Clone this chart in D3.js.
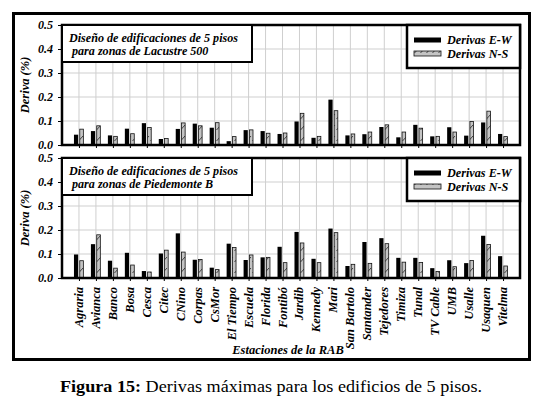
<!DOCTYPE html>
<html>
<head>
<meta charset="utf-8">
<script src="https://cdn.jsdelivr.net/npm/d3@7"></script>
</head>
<body style="margin:0;background:#fff">
<div id="chart"></div>
<script>
// stations of the RAB
var stations = ["Agraria","Avianca","Banco","Bosa","Cesca","Citec","CNino","Corpas","CsMor","El Tiempo",
  "Escuela","Florida","Fontibó","Jardib","Kennedy","Mari","San Bartolo","Santander","Tejedores","Timiza",
  "Tunal","TV Cable","UMB","Usalle","Usaquen","Vitelma"];

// Lacustre 500
var topEW = [0.043,0.058,0.040,0.068,0.091,0.025,0.067,0.089,0.072,0.016,0.062,0.058,0.046,0.098,0.030,0.189,0.040,0.045,0.075,0.032,0.084,0.036,0.074,0.039,0.094,0.046];
var topNS = [0.066,0.080,0.036,0.047,0.073,0.027,0.092,0.080,0.093,0.035,0.063,0.049,0.050,0.132,0.036,0.143,0.046,0.054,0.084,0.054,0.070,0.036,0.054,0.098,0.141,0.035];
// Piedemonte B
var botEW = [0.098,0.141,0.072,0.105,0.029,0.102,0.186,0.076,0.043,0.143,0.075,0.086,0.130,0.192,0.080,0.206,0.050,0.150,0.166,0.084,0.084,0.041,0.074,0.062,0.176,0.091];
var botNS = [0.072,0.180,0.041,0.054,0.025,0.116,0.108,0.077,0.035,0.127,0.096,0.086,0.064,0.146,0.064,0.189,0.057,0.061,0.143,0.066,0.065,0.027,0.047,0.073,0.140,0.050];

var yTicks = [0, 0.1, 0.2, 0.3, 0.4, 0.5];
var seriesNames = ["Derivas E-W", "Derivas N-S"];
var titles = [["Diseño de edificaciones de 5 pisos", " para zonas de Lacustre 500"],
              ["Diseño de edificaciones de 5 pisos", " para zonas de Piedemonte B"]];

var FONT = "'Liberation Serif', 'Times New Roman', serif";
var W = 549, H = 398;
var left = 62, right = 520;

var svg = d3.select("#chart").append("svg")
    .attr("width", W).attr("height", H)
    .attr("font-family", FONT);

// hatch for N-S bars
var defs = svg.append("defs");
var pat = defs.append("pattern").attr("id", "hatch")
    .attr("patternUnits", "userSpaceOnUse")
    .attr("width", 6).attr("height", 11);
pat.append("rect").attr("width", 6).attr("height", 11).attr("fill", "#c4c4c4");
pat.append("path").attr("d", "M0.5,9 L5,4").attr("stroke", "#333").attr("stroke-width", 0.9);

var x = d3.scalePoint().domain(stations).range([left, right]).padding(1);

function bi(sel, size) {
  return sel.attr("font-family", FONT).attr("font-size", size)
    .attr("font-weight", "bold").attr("font-style", "italic");
}

function panel(top, bottom, ew, ns, title, showX) {
  var y = d3.scaleLinear().domain([0, 0.5]).range([bottom, top]);
  var g = svg.append("g");

  // grid
  g.selectAll(".hg").data(yTicks).enter().append("line")
    .attr("x1", left).attr("x2", right)
    .attr("y1", function(d) { return y(d); }).attr("y2", function(d) { return y(d); })
    .attr("stroke", "#cfcfcf").attr("stroke-width", 1);
  g.selectAll(".vg").data(stations).enter().append("line")
    .attr("x1", function(d) { return x(d); }).attr("x2", function(d) { return x(d); })
    .attr("y1", top).attr("y2", bottom)
    .attr("stroke", "#cfcfcf").attr("stroke-width", 1);

  // bars
  g.selectAll(".ew").data(ew).enter().append("rect")
    .attr("x", function(d, i) { return x(stations[i]) - 5; })
    .attr("width", 4.2)
    .attr("y", function(d) { return y(d); })
    .attr("height", function(d) { return y(0) - y(d); })
    .attr("fill", "#000");
  g.selectAll(".ns").data(ns).enter().append("rect")
    .attr("x", function(d, i) { return x(stations[i]) + 0.8; })
    .attr("width", 3.6)
    .attr("y", function(d) { return y(d); })
    .attr("height", function(d) { return y(0) - y(d); })
    .attr("fill", "url(#hatch)")
    .attr("stroke", "#111").attr("stroke-width", 0.8);

  // y axis
  var ya = g.append("g").attr("transform", "translate(" + left + ",0)")
    .call(d3.axisLeft(y).tickValues(yTicks).tickFormat(d3.format(".1f")).tickSize(4).tickPadding(5));
  ya.attr("font-family", FONT);
  ya.select(".domain").remove();
  bi(ya.selectAll("text"), 12);

  // x ticks
  g.append("g").attr("transform", "translate(0," + bottom + ")")
    .call(d3.axisBottom(x).tickSize(3).tickFormat(""))
    .select(".domain").remove();

  // frame of the plot
  g.append("rect").attr("x", left).attr("y", top)
    .attr("width", right - left).attr("height", bottom - top)
    .attr("fill", "none").attr("stroke", "#000").attr("stroke-width", 2.5);

  // y label
  bi(g.append("text"), 12.5)
    .attr("transform", "translate(29," + ((top + bottom) / 2) + ") rotate(-90)")
    .attr("text-anchor", "middle")
    .text("Deriva (%)");

  // title box
  g.append("rect").attr("x", left).attr("y", top).attr("width", 190).attr("height", 37)
    .attr("fill", "#fff").attr("stroke", "#000").attr("stroke-width", 2);
  title.forEach(function(t, i) {
    bi(g.append("text"), 12.1).attr("x", 69).attr("y", top + 17 + i * 13)
      .attr("xml:space", "preserve")
      .text(t);
  });

  // legend
  var lg = g.append("g");
  lg.append("rect").attr("x", 407).attr("y", top).attr("width", right - 407).attr("height", 43)
    .attr("fill", "#fff").attr("stroke", "#000").attr("stroke-width", 2.5);
  seriesNames.forEach(function(s, i) {
    var ly = top + 15 + i * 13.5;
    lg.append("rect").attr("x", 414).attr("y", ly - 2.5).attr("width", 27).attr("height", 5)
      .attr("fill", i === 0 ? "#000" : "url(#hatch)")
      .attr("stroke", i === 0 ? "none" : "#111").attr("stroke-width", 0.8);
    bi(lg.append("text"), 12.2).attr("x", 447).attr("y", ly + 4.3)
      .text(s);
  });

  if (showX) {
    bi(g.selectAll(".xl").data(stations).enter().append("text"), 12.5)
      .attr("transform", function(d) { return "translate(" + (x(d) + 4) + "," + (bottom + 9) + ") rotate(-90)"; })
      .attr("text-anchor", "end")
      .text(function(d) { return d; });
  }
}

panel(25, 145, topEW, topNS, titles[0], false);
panel(158, 278, botEW, botNS, titles[1], true);

bi(svg.append("text"), 12.5).attr("x", 288).attr("y", 354).attr("text-anchor", "middle")
  .text("Estaciones de la RAB");

// outer frame
svg.append("rect").attr("x", 13.5).attr("y", 13.5).attr("width", 516).attr("height", 346)
  .attr("fill", "none").attr("stroke", "#000").attr("stroke-width", 3);

// caption
var cap = svg.append("text").attr("x", 60).attr("y", 392).attr("font-size", 16.5)
  .attr("font-family", FONT)
  .attr("textLength", 422).attr("lengthAdjust", "spacingAndGlyphs");
cap.append("tspan").attr("font-weight", "bold").text("Figura 15:");
cap.append("tspan").text(" Derivas máximas para los edificios de 5 pisos.");
</script>
</body>
</html>
